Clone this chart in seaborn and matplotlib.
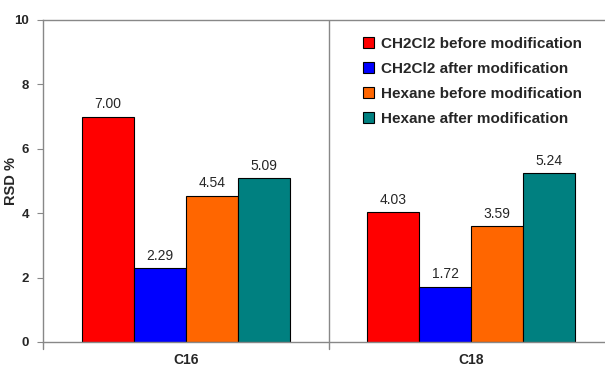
import matplotlib
matplotlib.use("Agg")
import matplotlib.pyplot as plt
import seaborn as sns
import pandas as pd
from matplotlib.patches import Patch

categories = ["C16", "C18"]
series = ["CH2Cl2 before modification", "CH2Cl2 after modification",
          "Hexane before modification", "Hexane after modification"]
values = {
    "CH2Cl2 before modification": [7.00, 4.03],
    "CH2Cl2 after modification": [2.29, 1.72],
    "Hexane before modification": [4.54, 3.59],
    "Hexane after modification": [5.09, 5.24],
}
colors = ["#FF0000", "#0000FF", "#FF6600", "#008080"]
yticks = [0, 2, 4, 6, 8, 10]

rows = []
for s in series:
    for c, v in zip(categories, values[s]):
        rows.append({"cat": c, "series": s, "val": v})
df = pd.DataFrame(rows)

sns.set_style("white")
plt.rcParams['font.family'] = ['Liberation Sans', 'DejaVu Sans']

fig = plt.figure(figsize=(6.05, 3.67), dpi=100)
ax = fig.add_axes([43/605, 1-342/367, 571/605, 322/367])

sns.barplot(data=df, x="cat", y="val", hue="series", hue_order=series,
            palette=colors, width=0.727, dodge=True, gap=0, ax=ax,
            edgecolor="black", linewidth=0.8, saturation=1, legend=False)

for cont in ax.containers:
    ax.bar_label(cont, fmt="%.2f", padding=4, fontsize=10)

ax.set_xlim(-0.5, 1.5)
ax.set_ylim(0, 10)
ax.set_yticks(yticks)
ax.set_yticklabels([str(t) for t in yticks], fontweight="bold", fontsize=9.5)
ax.set_xticks([0, 1])
ax.set_xticklabels(categories, fontweight="bold", fontsize=10)
ax.tick_params(axis="x", length=0, pad=8)
ax.tick_params(axis="y", length=4, color="#888888", direction="out", left=True, pad=6)
for t in [-0.5, 0.5]:
    ax.plot([t, t], [0, -0.22], color="#888888", lw=1, clip_on=False)
ax.axvline(0.5, color="#888888", lw=1)
ax.set_xlabel("")
ax.set_ylabel("RSD %", fontweight="bold", fontsize=10.5)
ax.yaxis.set_label_coords(-0.044, 0.50)

for side in ["left", "bottom", "top"]:
    ax.spines[side].set_color("#888888")
    ax.spines[side].set_linewidth(1)
ax.spines["right"].set_visible(False)

handles = [Patch(facecolor=c, edgecolor="black", linewidth=0.8) for c in colors]
leg = ax.legend(handles, series, loc="upper left", bbox_to_anchor=(314/571, 1-11/322),
                frameon=False, prop={"weight": "bold", "size": 11},
                handlelength=0.7, handleheight=0.7, handletextpad=0.45,
                labelspacing=0.72, borderaxespad=0)

fig.savefig("out.png", dpi=100)
